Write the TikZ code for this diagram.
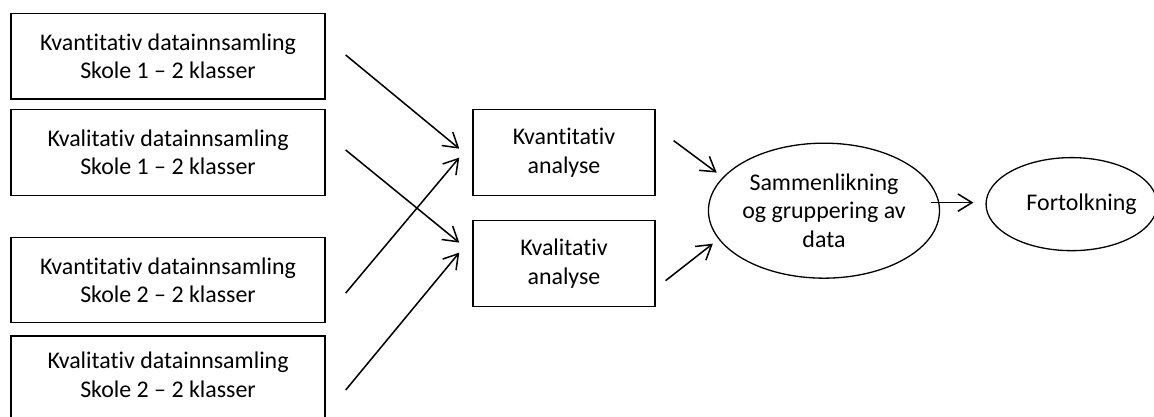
\documentclass[tikz,border=0pt]{standalone}
\usepackage{fontspec}
\setmainfont{Carlito}[Ligatures={NoCommon}]
\usepackage{tikz}
\usetikzlibrary{positioning,calc,arrows.meta,shapes.geometric}

\tikzset{
  box/.style={draw, line width=0.6pt, rectangle, align=center, inner sep=0pt,
    font=\fontsize{11}{13}\selectfont},
  insamling/.style={box, minimum width=144.4pt, minimum height=39.4pt},
  analyse/.style={box, minimum width=83.7pt, minimum height=39.6pt},
  sirkel/.style={box, ellipse},
  pil/.style={-{Straight Barb[length=6.5pt, width=8pt, line width=0.7pt]}, line width=0.7pt}
}

\begin{document}
\begin{tikzpicture}
\useasboundingbox (0,0) rectangle (530.8pt,-191.8pt);
\node [insamling] (q1) at (77.3pt,-25.8pt) {Kvantitativ datainnsamling\\Skole 1 -- 2 klasser};
\node [insamling, below of=q1, node distance=44.4pt] (q2) {Kvalitativ datainnsamling\\Skole 1 -- 2 klasser};
\node [insamling, below of=q2, node distance=58.6pt] (q3) {Kvantitativ datainnsamling\\Skole 2 -- 2 klasser};
% nederste boks er kuttet av nederst
\node [insamling, below of=q3, node distance=51.8pt, minimum height=52pt, text depth=16.4pt] (q4) {Kvalitativ datainnsamling\\Skole 2 -- 2 klasser};
\node [analyse, right of=q2, node distance=182.1pt] (an1) {Kvantitativ\\analyse};
\node [analyse, below of=an1, node distance=51.1pt] (an2) {Kvalitativ\\analyse};
\node [sirkel, right of=an1, yshift=-26.7pt, node distance=119.6pt,
  minimum width=105.8pt, minimum height=62.1pt] (samm) {Sammenlikning\\og gruppering av\\data};
\node [sirkel, right of=samm, yshift=3pt, node distance=113.9pt, inner xsep=-4pt,
  minimum width=78.7pt, minimum height=42.8pt] (tolk) {\hspace*{9.2pt}Fortolkning};
% endepunkter for pilene
\coordinate (s1) at ($(q1.east)+(9.2pt,0.5pt)$);
\coordinate (t1) at ($(an1.west)+(-6pt,1.8pt)$);
\coordinate (s2) at ($(q2.east)+(9.2pt,1.2pt)$);
\coordinate (t2) at ($(an2.west)+(-6pt,9.7pt)$);
\coordinate (s3) at ($(q3.east)+(9.2pt,-6pt)$);
\coordinate (t3) at ($(an1.west)+(-6pt,-2.3pt)$);
\coordinate (s4) at ($(q3.east)+(9.2pt,-50.6pt)$);
\coordinate (t4) at ($(an2.west)+(-6pt,5.1pt)$);
\coordinate (s5) at ($(an1.east)+(8.3pt,5.5pt)$);
\coordinate (t5) at ($(samm.west)+(4.1pt,17.5pt)$);
\coordinate (s6) at ($(an2.east)+(4.6pt,-7.8pt)$);
\coordinate (t6) at ($(samm.west)+(2.3pt,-15.2pt)$);
\coordinate (s7) at ($(samm.east)+(-4.1pt,3.7pt)$);
\coordinate (t7) at ($(tolk.west)+(-5.5pt,0.7pt)$);
\draw [pil] (s1) -- (t1);
\draw [pil] (s2) -- (t2);
\draw [pil] (s3) -- (t3);
\draw [pil] (s4) -- (t4);
\draw [pil] (s5) -- (t5);
\draw [pil] (s6) -- (t6);
\draw [pil] (s7) -- (t7);
\end{tikzpicture}
\end{document}
